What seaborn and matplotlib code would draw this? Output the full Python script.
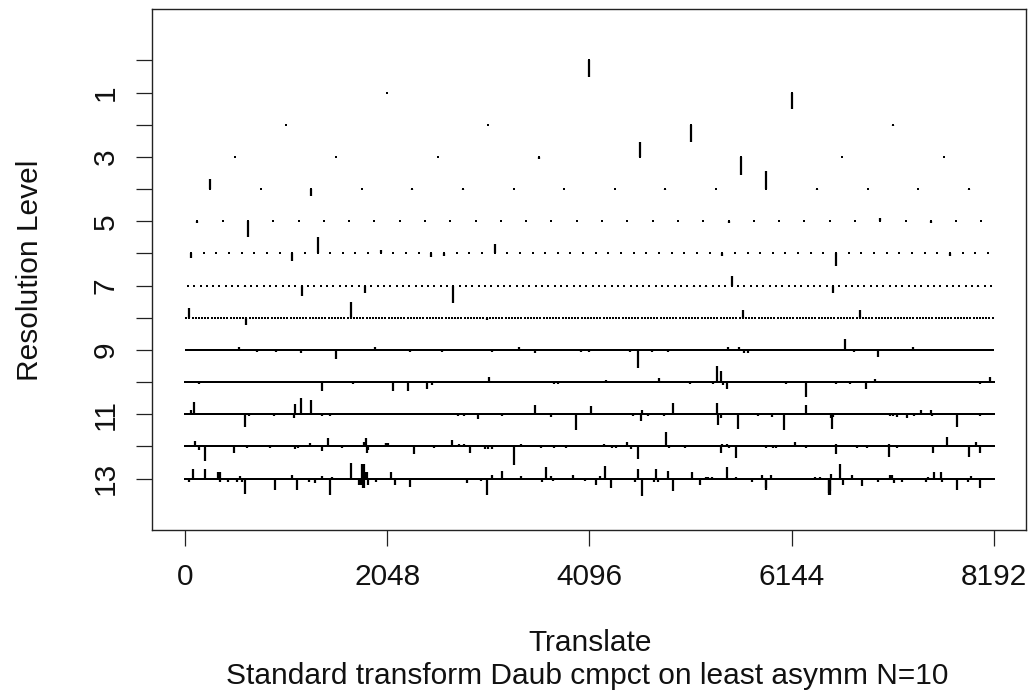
import numpy as np
import pandas as pd
import seaborn as sns
import matplotlib.pyplot as plt

N = 8192
N_LEVELS = 14

# coefficient heights, in units of one level spacing
# (positive = drawn downwards). coarse levels are given in full,
# finer levels as (index, value) pairs, everything else is zero.
lev0 = [0.5]
lev1 = [0, 0.5]
lev2 = [0, 0, 0.55, 0.03]
lev3 = [0, 0, 0, 0.05, -0.45, 0.55, 0, 0]
lev4 = [-0.3, 0, 0.2, 0, 0.03, 0.03, 0, 0, 0, 0.03, 0, -0.55, 0.03, 0, 0, 0.03]
lev5 = [(0, 0.05), (2, 0.5), (21, 0.05), (27, -0.1), (29, 0.05)]
lev6 = [(0, 0.15), (8, 0.25), (10, -0.5), (15, -0.12), (19, 0.12), (20, 0.08),
        (24, -0.3), (42, 0.08), (51, 0.4), (60, 0.08)]
lev7 = [(9, 0.05), (18, 0.33), (28, 0.22), (42, 0.55), (80, 0.05), (82, 0.05),
        (86, -0.3), (102, 0.22), (125, 0.05)]
lev8 = [(1, -0.3), (19, 0.22), (41, 0.05), (52, -0.5), (85, 0.05), (95, 0.07),
        (127, 0.05), (176, -0.25), (213, -0.25), (215, 0.05)]
lev9 = [(34, -0.08), (45, 0.05), (57, 0.05), (73, 0.1), (95, 0.28), (120, -0.08),
        (142, 0.05), (162, 0.05), (194, 0.05), (211, -0.08), (221, 0.1), (250, 0.05),
        (255, 0.05), (281, 0.05), (286, 0.55), (295, 0.05), (305, 0.05), (343, -0.1),
        (350, -0.1), (353, 0.1), (356, 0.1), (417, -0.35), (423, 0.05), (438, 0.22),
        (460, -0.08)]
lev10 = [(18, 0.05), (173, 0.28), (212, 0.05), (263, 0.28), (282, 0.28), (306, 0.22),
         (312, 0.1), (384, -0.15), (467, 0.05), (472, 0.05), (533, -0.05), (600, -0.12),
         (639, 0.05), (668, 0.05), (673, -0.5), (678, -0.35), (680, 0.1), (685, 0.2),
         (760, 0.05), (785, 0.45), (824, 0.05), (841, 0.05), (862, 0.2), (873, -0.08),
         (1006, 0.05), (1018, -0.15)]
lev11 = [(15, -0.12), (22, -0.38), (153, 0.4), (161, 0.05), (225, 0.05), (276, 0.12),
         (278, -0.33), (294, -0.5), (318, -0.45), (347, 0.05), (368, 0.05), (400, -0.05),
         (468, -0.05), (531, -0.05), (692, 0.05), (706, 0.05), (741, 0.15), (803, 0.05),
         (870, -0.05), (886, -0.28), (926, 0.08), (989, 0.5), (1027, -0.25), (1134, 0.05),
         (1153, 0.2), (1156, -0.12), (1172, 0.05), (1212, 0.05), (1236, -0.35),
         (1347, -0.35), (1348, 0.33), (1357, 0.12), (1400, 0.45), (1450, 0.05),
         (1486, 0.08), (1517, 0.5), (1571, -0.3), (1636, 0.12), (1638, 0.45),
         (1640, 0.1), (1659, -0.05), (1701, -0.05), (1783, 0.05), (1792, 0.05),
         (1802, 0.1), (1828, 0.12), (1845, 0.05), (1862, -0.12), (1887, -0.12),
         (1890, 0.05), (1953, 0.4), (2012, 0.05)]
lev12 = [(36, -0.05), (53, -0.18), (74, 0.12), (101, 0.45), (247, 0.22), (249, -0.05),
         (315, 0.05), (430, 0.05), (560, 0.08), (573, 0.05), (636, -0.12), (648, -0.05),
         (695, 0.15), (725, -0.25), (762, -0.05), (793, 0.05), (860, -0.05), (905, -0.15),
         (917, -0.25), (920, 0.2), (927, 0.1), (956, -0.05), (1016, -0.12), (1020, -0.12),
         (1028, -0.1), (1159, 0.25), (1260, 0.05), (1290, -0.05), (1353, -0.2),
         (1390, -0.08), (1412, -0.08), (1442, 0.22), (1521, 0.08), (1535, 0.08),
         (1555, 0.08), (1665, 0.57), (1699, -0.08), (1800, 0.05), (1867, 0.05),
         (1927, 0.05), (2121, -0.08), (2163, 0.05), (2180, 0.05), (2239, -0.15),
         (2256, 0.08), (2294, 0.4), (2433, -0.45), (2452, 0.05), (2530, 0.05),
         (2553, -0.05), (2597, -0.05), (2714, 0.22), (2716, -0.08), (2744, -0.08),
         (2756, 0.05), (2789, 0.35), (2942, 0.05), (2977, 0.05), (2992, 0.05),
         (3090, -0.15), (3145, 0.05), (3294, 0.25), (3296, -0.08), (3403, 0.05),
         (3454, 0.05), (3564, 0.33), (3566, -0.08), (3606, 0.05), (3703, -0.05),
         (3784, 0.22), (3859, -0.3), (3966, 0.33), (4006, -0.15), (4025, 0.22)]
lev13 = [(47, 0.1), (84, -0.3), (202, -0.3), (337, -0.2), (350, -0.2), (355, 0.1),
         (360, -0.2), (438, 0.1), (530, 0.12), (560, -0.08), (580, 0.12), (614, 0.48),
         (850, 0.05), (918, 0.35), (1086, -0.1), (1137, 0.35), (1255, 0.1), (1320, 0.15),
         (1390, -0.08), (1468, 0.5), (1492, -0.05), (1654, 0.05), (1678, -0.48),
         (1762, 0.2), (1779, 0.2), (1790, -0.45), (1800, -0.45), (1805, 0.3),
         (1812, -0.45), (1818, 0.3), (1822, -0.2), (1846, -0.2), (1850, 0.2),
         (1931, 0.12), (2089, -0.2), (2127, 0.2), (2184, 0.05), (2278, 0.25),
         (2340, 0.05), (2400, 0.05), (2460, 0.05), (2625, 0.05), (2700, 0.05),
         (2760, 0.05), (2858, 0.15), (2994, 0.08), (3061, 0.5), (3111, -0.12),
         (3212, -0.25), (3297, 0.05), (3338, 0.05), (3399, -0.08), (3551, 0.05),
         (3618, 0.12), (3659, -0.35), (3703, -0.08), (3727, 0.08), (3929, -0.12),
         (4050, 0.08), (4165, 0.2), (4199, -0.08), (4249, -0.4), (4317, 0.3),
         (4378, 0.05), (4557, 0.1), (4587, -0.3), (4631, 0.55), (4749, 0.1),
         (4770, -0.3), (4790, 0.1), (4890, -0.22), (4945, 0.4), (5076, 0.05),
         (5137, -0.2), (5211, 0.2), (5272, -0.05), (5300, -0.05), (5339, -0.05),
         (5430, 0.05), (5491, -0.35), (5576, -0.05), (5738, 0.1), (5839, -0.12),
         (5880, 0.35), (5885, 0.3), (5937, -0.12), (6040, 0.05), (6080, 0.05),
         (6207, 0.05), (6380, -0.05), (6430, -0.05), (6521, 0.45), (6525, 0.5),
         (6530, 0.5), (6535, 0.4), (6545, -0.15), (6628, -0.45), (6662, 0.2),
         (6750, -0.1), (6852, 0.22), (7020, 0.1), (7136, -0.12), (7160, -0.12),
         (7180, 0.15), (7257, 0.1), (7372, 0.05), (7507, 0.1), (7520, -0.05),
         (7583, -0.2), (7651, -0.2), (7660, 0.1), (7814, 0.35), (7932, 0.12),
         (7960, -0.08), (7980, 0.05), (8053, 0.3)]

levels = [lev0, lev1, lev2, lev3, lev4, lev5, lev6, lev7, lev8, lev9, lev10,
          lev11, lev12, lev13]

rows = []
for j, coefs in enumerate(levels):
    n = 2 ** j
    vals = np.zeros(n)
    if len(coefs) == n and not isinstance(coefs[0], tuple):
        vals[:] = coefs
    else:
        for k, v in coefs:
            vals[k] = v
    pos = (np.arange(n) + 0.5) * N / n
    rows.append(pd.DataFrame({'pos': pos, 'level': j, 'value': vals}))
df = pd.concat(rows, ignore_index=True)

sns.set_style('white')
plt.rcParams['font.family'] = ['Liberation Sans', 'DejaVu Sans']

fig = plt.figure(figsize=(10.3, 6.93), dpi=100)
ax = fig.add_axes([0.1479, 0.2352, 0.8487, 0.7518])

sns.scatterplot(data=df, x='pos', y='level', marker='s', s=3.2, color='black',
                linewidth=0, ax=ax, legend=False)
nz = df[df['value'] != 0]
ax.vlines(nz['pos'], nz['level'], nz['level'] + nz['value'], color='black', lw=1.6)

ax.set_xlim(-0.04 * N, 1.04 * N)
ax.set_ylim(14.6, -1.6)
ax.set_xticks([0, 2048, 4096, 6144, 8192])
ax.set_xticklabels(['0', '2048', '4096', '6144', '8192'])
ax.set_yticks(range(N_LEVELS))
ax.set_yticklabels([str(i) if i % 2 == 1 else '' for i in range(N_LEVELS)],
                   rotation=90, va='center')
ax.tick_params(axis='both', length=11.5, width=0.9, labelsize=21.5, pad=12,
               color='#222222', labelcolor='#111111', direction='out')
ax.tick_params(left=True, bottom=True)
for s in ax.spines.values():
    s.set_color('#222222')
    s.set_linewidth(1.0)
ax.set_xlabel('')
ax.set_ylabel('')

fig.text(30 / 1030, 1 - 270 / 693, 'Resolution Level', rotation=90, ha='center',
         va='center', fontsize=21.5, color='#111111')
fig.text(590 / 1030, 1 - 643 / 693, 'Translate', ha='center', va='center',
         fontsize=21.5, color='#111111')
fig.text(587 / 1030, 1 - 676 / 693,
         'Standard transform Daub cmpct on least asymm N=10',
         ha='center', va='center', fontsize=21.5, color='#111111')

fig.savefig('out.png', dpi=100)
